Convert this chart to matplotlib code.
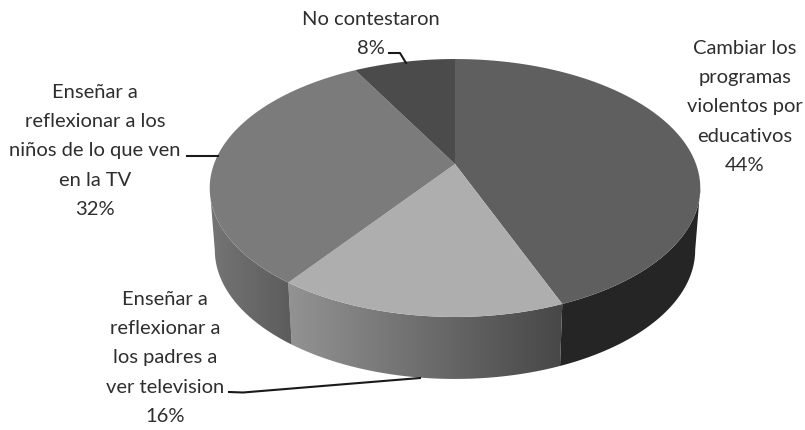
import numpy as np
import matplotlib
matplotlib.use('Agg')
import matplotlib.pyplot as plt
from matplotlib.patches import Polygon
from matplotlib.path import Path
from matplotlib.transforms import Transform, Affine2D

# data
labels = ['Cambiar los\nprogramas\nviolentos por\neducativos\n44%',
          'Enseñar a\nreflexionar a\nlos padres a\nver television\n16%',
          'Enseñar a\nreflexionar a los\nniños de lo que ven\nen la TV\n32%',
          'No contestaron\n8%']
values = [44, 16, 32, 8]
top_colors = ['#5f5f5f', '#aeaeae', '#7b7b7b', '#4b4b4b']
wall_colors = [('#252525', '#252525'), ('#939393', '#474747'), ('#757575', '#5c5c5c'), None]

label_pos = [(745, 107), (165, 358), (95, 151), (371, 34)]
leaders = [None,
           ([229, 243, 420], [393, 393.5, 379]),
           ([187, 218], [157, 157]),
           ([389, 400, 406], [54, 54, 64])]


class Persp(Transform):
    # tilted circle -> pixel coordinates of the picture
    input_dims = 2
    output_dims = 2

    def __init__(self, cx, cy, rx, ry, k):
        super().__init__()
        self.p = (cx, cy, rx, ry, k)

    def transform_non_affine(self, values):
        cx, cy, rx, ry, k = self.p
        values = np.asarray(values, dtype=float)
        w = 1 + k * values[:, 1]
        return np.column_stack([cx + rx * values[:, 0] / w, cy - ry * values[:, 1] / w])

    def transform_path_non_affine(self, path):
        big = path.transformed(Affine2D().scale(500)).to_polygons()[0] / 500
        return Path(self.transform_non_affine(big))


def circle(t):
    return np.column_stack([np.sin(t), np.cos(t)])


top = Persp(455, 165, 241, 124.5, 0.186)
bottom = Persp(455, 227, 236, 124.5, 0.186)

fig = plt.figure(figsize=(8.05, 4.31), dpi=100)
ax = fig.add_axes([0, 0, 1, 1])

wedges, _ = ax.pie(values, startangle=90, counterclock=False, colors=top_colors, radius=1)
for w in wedges:
    w.set_transform(top + ax.transData)
    w.set_zorder(3)
    w.set_linewidth(0)

# side walls, only the part of the rim facing the viewer
edge = np.arccos(-0.186)
cum = np.cumsum([0] + values) / sum(values) * 2 * np.pi
for i, colors in enumerate(wall_colors):
    if colors is None:
        continue
    t0 = max(cum[i], edge)
    t1 = min(cum[i + 1], 2 * np.pi - edge)
    t = np.linspace(t0, t1, 120)
    upper = top.transform_non_affine(circle(t))
    lower = bottom.transform_non_affine(circle(t))
    poly = np.vstack([upper, lower[::-1]])
    x0, x1 = poly[:, 0].min(), poly[:, 0].max()
    y0, y1 = poly[:, 1].min(), poly[:, 1].max()
    cmap = matplotlib.colors.LinearSegmentedColormap.from_list('w', colors)
    im = ax.imshow(np.linspace(0, 1, 256)[None, :], cmap=cmap, extent=[x0, x1, y1, y0],
                   aspect='auto', zorder=2)
    patch = Polygon(poly, closed=True, transform=ax.transData, facecolor='none', edgecolor='none')
    ax.add_patch(patch)
    im.set_clip_path(patch)

for txt, (x, y) in zip(labels, label_pos):
    ax.text(x, y, txt, ha='center', va='center', fontsize=14.5, family='Lato',
            color='#2e2e2e', linespacing=1.87, zorder=5)

for leader in leaders:
    if leader is not None:
        ax.plot(leader[0], leader[1], color='#1a1a1a', lw=1.5, zorder=4)

ax.set_xlim(0, 805)
ax.set_ylim(431, 0)
ax.set_aspect('auto')
ax.axis('off')
fig.savefig('out.png', dpi=100, facecolor='white')
